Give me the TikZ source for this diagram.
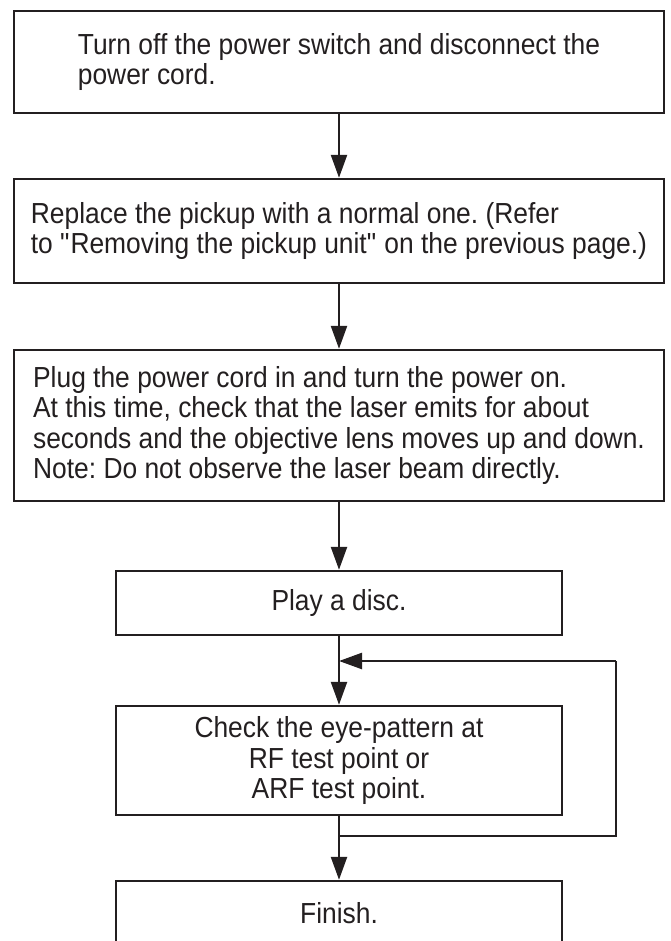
\documentclass[tikz,border=0pt]{standalone}
\usepackage{fontspec}
\setmainfont{Liberation Sans}[FakeStretch=0.91]
\usetikzlibrary{arrows.meta}
\definecolor{ink}{HTML}{231F20}
\frenchspacing
\begin{document}
\begin{tikzpicture}[x=1pt,y=-1pt,
  stepbox/.style={draw=ink, line width=2.4pt, text=ink, inner sep=0pt,
    font=\fontsize{29}{30.5}\selectfont},
  wide/.style={stepbox, minimum width=650pt, align=left},
  narrow/.style={stepbox, minimum width=446pt, align=center},
  flow/.style={draw=ink, line width=2.4pt, -{Triangle[length=23pt,width=16pt]}},
  plain/.style={draw=ink, line width=2.4pt}]
\useasboundingbox (0,0) rectangle (670,941);
\clip (0,0) rectangle (670,941);
\node[wide, minimum height=102pt] (b1) at (339,62)
  {Turn off the power switch and disconnect the\\power cord.};
\node[wide, minimum height=104pt] (b2) at (339,231)
  {Replace the pickup with a normal one. (Refer\\to \textquotedbl Removing the pickup unit\textquotedbl{} on the previous page.)};
\node[wide, minimum height=151pt] (b3) at (339,425.5)
  {Plug the power cord in and turn the power on.\\At this time, check that the laser emits for about\\seconds and the objective lens moves up and down.\\Note: Do not observe the laser beam directly.};
\node[narrow, minimum height=64pt] (b4) at (339,603) {Play a disc.};
\node[narrow, minimum height=109pt] (b5) at (339,760.5)
  {Check the eye-pattern at\\RF test point or\\ARF test point.};
\node[narrow, minimum height=64pt] (b6) at (339,913) {Finish.};
\coordinate (j1) at (339,661);
\coordinate (j2) at (339,836);
\coordinate (r1) at (616,661);
\coordinate (r2) at (616,836);
\draw[flow] (b1.south) -- (b2.north);
\draw[flow] (b2.south) -- (b3.north);
\draw[flow] (b3.south) -- (b4.north);
\draw[flow] (b4.south) -- (b5.north);
\draw[flow] (b5.south) -- (b6.north);
\draw[plain] (j2) -- (r2) -- (r1);
\draw[flow] (r1) -- (j1);
\end{tikzpicture}
\end{document}
